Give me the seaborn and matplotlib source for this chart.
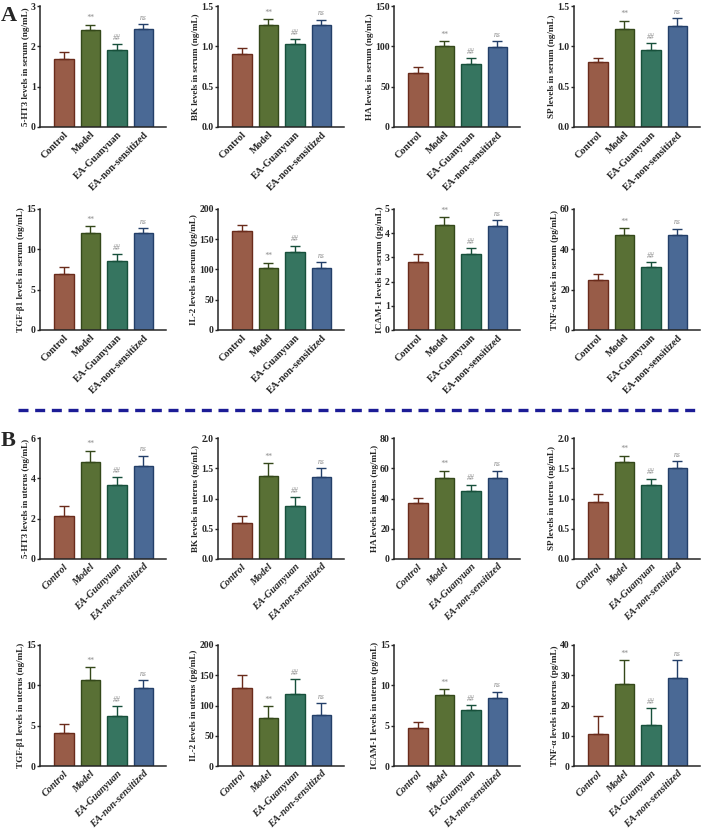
import numpy as np
import pandas as pd
import matplotlib
matplotlib.use("Agg")
import matplotlib.pyplot as plt
import seaborn as sns

# Groups and colours
GROUPS = ["Control", "Model", "EA-Guanyuan", "EA-non-sensitized"]
BAR_COLORS = ["#A5553B", "#5B7A2B", "#2B7F63", "#3E67A1"]
EDGE_COLORS = ["#6A2B1B", "#34481A", "#17503B", "#233F69"]
MARKS = ["", "**", "##", "ns"]

# Panel A: serum
serum_labels = ["5-HT3 levels in serum (ng/mL)", "BK levels in serum (ng/mL)",
                "HA levels in serum (ng/mL)", "SP levels in serum (ng/mL)",
                "TGF-\u03b21 levels in serum (ng/mL)", "IL-2 levels in serum (pg/mL)",
                "ICAM-1 levels in serum (pg/mL)", "TNF-\u03b1 levels in serum (pg/mL)"]
serum_means = [[1.69, 2.41, 1.91, 2.43],
               [0.90, 1.265, 1.025, 1.27],
               [67.5, 100.5, 78.0, 99.6],
               [0.80, 1.22, 0.96, 1.25],
               [6.9, 12.0, 8.55, 12.0],
               [164, 103, 129, 102],
               [2.79, 4.33, 3.16, 4.30],
               [24.7, 47.3, 31.0, 47.1]]
serum_err = [[0.16, 0.13, 0.14, 0.12],
             [0.075, 0.07, 0.06, 0.06],
             [7.5, 6.0, 7.0, 6.4],
             [0.06, 0.10, 0.08, 0.10],
             [0.9, 0.85, 0.82, 0.6],
             [9.5, 8.5, 10.5, 10.5],
             [0.34, 0.34, 0.21, 0.23],
             [3.2, 3.3, 2.5, 3.1]]
serum_ylim = [3, 1.5, 150, 1.5, 15, 200, 5, 60]
serum_ticks = [[0, 1, 2, 3], [0.0, 0.5, 1.0, 1.5], [0, 50, 100, 150], [0.0, 0.5, 1.0, 1.5],
               [0, 5, 10, 15], [0, 50, 100, 150, 200], [0, 1, 2, 3, 4, 5], [0, 20, 40, 60]]

# Panel B: uterus
uterus_labels = ["5-HT3 levels in uterus (ng/mL)", "BK levels in uterus (ng/mL)",
                 "HA levels in uterus (ng/mL)", "SP levels in uterus (ng/mL)",
                 "TGF-\u03b21 levels in uterus (ng/mL)", "IL-2 levels in uterus (pg/mL)",
                 "ICAM-1 levels in uterus (pg/mL)", "TNF-\u03b1 levels in uterus (pg/mL)"]
uterus_means = [[2.12, 4.83, 3.66, 4.61],
                [0.59, 1.37, 0.87, 1.36],
                [36.9, 53.4, 45.0, 53.8],
                [0.945, 1.60, 1.225, 1.505],
                [4.15, 10.7, 6.17, 9.7],
                [129, 80, 119, 84],
                [4.73, 8.8, 6.99, 8.38],
                [10.6, 27.2, 13.7, 29.0]]
uterus_err = [[0.50, 0.54, 0.40, 0.51],
              [0.115, 0.21, 0.15, 0.14],
              [3.5, 5.1, 4.2, 4.7],
              [0.125, 0.11, 0.105, 0.11],
              [1.03, 1.55, 1.23, 0.9],
              [22, 19, 24, 20],
              [0.74, 0.74, 0.57, 0.82],
              [5.9, 7.8, 5.5, 6.0]]
uterus_ylim = [6, 2.0, 80, 2.0, 15, 200, 15, 40]
uterus_ticks = [[0, 2, 4, 6], [0.0, 0.5, 1.0, 1.5, 2.0], [0, 20, 40, 60, 80],
                [0.0, 0.5, 1.0, 1.5, 2.0], [0, 5, 10, 15], [0, 50, 100, 150, 200],
                [0, 5, 10, 15], [0, 10, 20, 30, 40]]

sns.set_style("ticks")
plt.rcParams["font.family"] = ["Liberation Serif", "DejaVu Serif"]
plt.rcParams["font.weight"] = "bold"

W, H = 702, 833
fig = plt.figure(figsize=(W / 100, H / 100), dpi=100)

col_left = [40, 218, 394, 574]
row_top = [6, 209, 438, 645]
ax_w, ax_h = 126, 121


def fmt_tick(v, ticks):
    if any(isinstance(t, float) for t in ticks):
        return f"{v:.1f}"
    return f"{int(v)}"


def draw_panel(ax, ylabel, means, errs, ymax, ticks, italic):
    df = pd.DataFrame({"group": GROUPS, "value": means})
    sns.barplot(data=df, x="group", y="value", hue="group", palette=BAR_COLORS,
                order=GROUPS, width=0.74, legend=False, ax=ax, errorbar=None)
    for patch, ec in zip(ax.patches, EDGE_COLORS):
        patch.set_edgecolor(ec)
        patch.set_linewidth(1.0)
    for i in range(len(GROUPS)):
        ax.errorbar(i, means[i], yerr=[[0], [errs[i]]], fmt="none",
                    ecolor=EDGE_COLORS[i], elinewidth=1.0, capsize=3.5, capthick=1.0)
        if MARKS[i]:
            ax.text(i, means[i] + errs[i] + ymax * 0.02, MARKS[i], ha="center", va="bottom",
                    fontsize=5.5, style="italic", fontweight="normal", color="#8a8a8a")
    ax.set_xlim(-0.9, 3.85)
    ax.set_ylim(0, ymax)
    ax.set_yticks(ticks)
    ax.set_yticklabels([fmt_tick(t, ticks) for t in ticks], fontsize=7, fontweight="bold")
    ax.set_xticks(range(len(GROUPS)))
    ax.set_xticklabels(GROUPS, rotation=45, ha="right", rotation_mode="anchor",
                       fontsize=7.3, fontweight="bold", style="italic" if italic else "normal")
    ax.set_xlabel("")
    ax.set_ylabel(ylabel, fontsize=6.6, fontweight="bold", labelpad=1)
    ax.tick_params(axis="y", length=2.5, width=1.0, pad=0.5)
    ax.tick_params(axis="x", length=0, pad=2)
    for s in ["left", "bottom"]:
        ax.spines[s].set_linewidth(1.1)
    sns.despine(ax=ax)


sections = [(serum_labels, serum_means, serum_err, serum_ylim, serum_ticks, False, 0),
            (uterus_labels, uterus_means, uterus_err, uterus_ylim, uterus_ticks, True, 2)]

for labels, means, errs, ylims, ticks, italic, r0 in sections:
    for k in range(8):
        r = r0 + k // 4
        c = k % 4
        left = col_left[c] / W
        bottom = 1 - (row_top[r] + ax_h) / H
        ax = fig.add_axes([left, bottom, ax_w / W, ax_h / H])
        draw_panel(ax, labels[k], means[k], errs[k], ylims[k], ticks[k], italic)

# section letters
fig.text(1 / W, 1 - 16 / H, "A", fontsize=16, fontweight="bold", va="center", ha="left")
fig.text(1 / W, 1 - 441 / H, "B", fontsize=16, fontweight="bold", va="center", ha="left")

# dashed separator
fig.add_artist(plt.Line2D([18 / W, 700 / W], [1 - 410 / H, 1 - 410 / H],
                          color="#1c1c96", linewidth=2.4, linestyle=(0, (3, 2))))

fig.savefig("out.png", dpi=100)
